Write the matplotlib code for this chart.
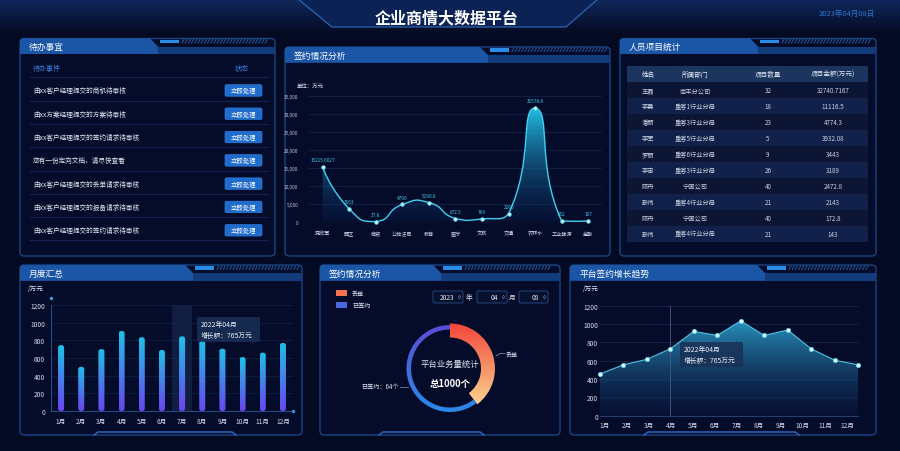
import matplotlib
matplotlib.use('Agg')
import matplotlib.pyplot as plt
import numpy as np
from matplotlib.patches import Rectangle, FancyBboxPatch, Polygon, PathPatch
from matplotlib.path import Path
from matplotlib.colors import to_rgba

plt.rcParams['font.family'] = ['Noto Sans CJK SC', 'DejaVu Sans']

W, H = 900, 452

# ---- 数据 ----
sign_cats = ['党政军', '园区', '商贸', '公检法司', '教育', '医疗', '文旅', '交通', '农林水', '工业能源', '金融']
sign_vals = [15215.6027, 3563, 37.8, 4790, 5298.8, 872.5, 764, 2260, 31578.8, 162, 197]
sign_yticks = [0, 5000, 10000, 15000, 20000, 25000, 30000, 35000]

months = ['1月', '2月', '3月', '4月', '5月', '6月', '7月', '8月', '9月', '10月', '11月', '12月']
month_vals = [745, 500, 700, 905, 835, 690, 845, 795, 705, 610, 660, 770]
trend_vals = [455, 555, 615, 730, 920, 875, 1035, 875, 935, 730, 605, 555]
month_yticks = [0, 200, 400, 600, 800, 1000, 1200]

todo_items = ['由xx客户经理提交的商机待审核',
              '由xx方案经理提交的方案待审核',
              '由xx客户经理提交的签约请求待审核',
              '您有一份定向文档，请尽快查看',
              '由xx客户经理提交的丢单请求待审核',
              '由xx客户经理提交的报备请求待审核',
              '由xx客户经理提交的签约请求待审核']

staff_cols = ['姓名', '所属部门', '项目数量', '项目金额(万元)']
staff_names = ['王磊', '李勇', '潘丽', '李军', '罗丽', '李宙', '陈丹', '靳伟', '陈丹', '靳伟']
staff_depts = ['南丰分公司', '重客1行业分局', '重客3行业分局', '重客5行业分局', '重客6行业分局',
               '重客3行业分局', '宁国公司', '重客4行业分局', '宁国公司', '重客4行业分局']
staff_counts = [32, 18, 23, 5, 9, 26, 40, 21, 40, 21]
staff_amounts = [32740.7167, 11116.5, 4774.3, 3932.08, 3443, 3189, 2472.8, 2143, 172.8, 143]

pie_names = ['丢单', '已签约']
pie_vals = [42, 64]
total_count = 1000

tip_title = '2022年04月'
tip_value = 765

fig = plt.figure(figsize=(9, 4.52), dpi=100)
fig.patch.set_facecolor('#040a22')


def px_axes(x0, y0, x1, y1):
    ax = fig.add_axes([x0 / W, 1 - y1 / H, (x1 - x0) / W, (y1 - y0) / H])
    ax.set_facecolor('none')
    return ax


def grad(ax, x0, x1, y_top, y_bot, c_top, c_bot, clip=None, tr=None, z=1):
    t = np.linspace(0, 1, 128)[:, None, None]
    img = np.array(to_rgba(c_top)) * (1 - t) + np.array(to_rgba(c_bot)) * t
    im = ax.imshow(img, extent=(x0, x1, y_bot, y_top), origin='upper',
                   aspect='auto', interpolation='bilinear', zorder=z)
    if clip is not None:
        if tr is None:
            im.set_clip_path(clip)
        else:
            im.set_clip_path(clip, tr)
    return im


def smooth_path(xv, yv, sx, sy, smooth=0.5):
    # echarts 风格的平滑曲线控制点
    P = np.column_stack([np.asarray(xv, float) * sx, np.asarray(yv, float) * sy])
    n = len(P)
    lo, hi = P.min(axis=0), P.max(axis=0)
    cps = []
    for i in range(n):
        prev = P[i - 1] if i > 0 else P[i]
        nxt = P[i + 1] if i < n - 1 else P[i]
        v = nxt - prev
        d0 = np.hypot(*(P[i] - prev))
        d1 = np.hypot(*(nxt - P[i]))
        r = d1 / (d0 + d1) if d0 + d1 > 0 else 0.5
        c_in = np.clip(P[i] - v * smooth * (1 - r), lo, hi)
        c_out = np.clip(P[i] + v * smooth * r, lo, hi)
        if i == 0:
            c_out = P[i]
        if i == n - 1:
            c_in = P[i]
        cps.append((c_in, c_out))
    verts = [P[0]]
    codes = [Path.MOVETO]
    for i in range(n - 1):
        verts += [cps[i][1], cps[i + 1][0], P[i + 1]]
        codes += [Path.CURVE4] * 3
    return np.array(verts) / [sx, sy], codes


bg = fig.add_axes([0, 0, 1, 1])
bg.axis('off')

# ---- 顶部标题 ----
grad(bg, 0, W, 0, 34, '#10295c', '#040a22', z=0)
bg.add_patch(Polygon([(298, 0), (598, 0), (566, 28), (332, 28)], closed=True,
                     fc='#0a2254', ec='#2f6cbd', lw=0.8, zorder=1))
bg.text(447, 18, '企业商情大数据平台', color='white', fontsize=11.5, weight='bold',
        ha='center', va='center', zorder=3)
bg.text(847, 14, '2023年04月08日', color='#2f78d0', fontsize=5.4, ha='center', va='center')


def panel(x0, y0, x1, y1, title, tab_end, stripe_end, notch=None):
    bg.add_patch(FancyBboxPatch((x0, y0), x1 - x0, y1 - y0,
                                boxstyle='round,pad=0,rounding_size=4',
                                fc='#050c2a', ec='#1a4a8e', lw=0.9, zorder=1))
    bg.add_patch(Rectangle((x0, y0 + 8), x1 - x0, 7.5, fc='#123c7c', ec='none', zorder=2))
    bg.add_patch(Polygon([(x0, y0 + 2), (x0 + 2, y0), (tab_end, y0), (tab_end + 8, y0 + 8),
                          (tab_end + 8, y0 + 15.5), (x0, y0 + 15.5)], closed=True,
                         fc='#1b56a6', ec='none', zorder=2))
    bg.add_patch(Rectangle((tab_end + 10, y0 + 1), 19, 3.5, fc='#2b8ce6', ec='none', zorder=3))
    for sx in np.arange(tab_end + 32, stripe_end, 3.2):
        bg.plot([sx, sx + 2], [y0 + 4.5, y0 + 1], color='#2b5b9c', lw=0.7, zorder=3)
    bg.text(x0 + 9, y0 + 8, title, color='white', fontsize=6.3, va='center', zorder=4)
    if notch is not None:
        a, b = notch
        bg.plot([a - 4, a, b, b + 4], [y1, y1 - 3, y1 - 3, y1], color='#2a66b8', lw=1.1, zorder=3)


panel(20, 39.5, 275, 257, '待办事宜', 150, 268)
panel(285, 48, 610, 257, '签约情况分析', 480, 605)
panel(620, 39.5, 876, 257, '人员项目统计', 750, 870)
panel(20, 266, 302, 436, '月度汇总', 185, 300, notch=(98, 232))
panel(320, 266, 560, 436, '签约情况分析', 433, 550, notch=(383, 480))
panel(570, 266, 876, 436, '平台签约增长趋势', 757, 868, notch=(648, 795))

# ---- 待办事宜 ----
bg.text(33, 69.5, '待办事件', color='#3d7fe0', fontsize=5, va='center')
bg.text(242, 69.5, '状态', color='#3d7fe0', fontsize=5, va='center', ha='center')
row_h = 23.3
for i, item in enumerate(todo_items):
    yl = 78.3 + row_h * i
    bg.plot([30, 268], [yl, yl], color='#17295a', lw=0.6, zorder=2)
    yc = yl + row_h / 2 + 1.5
    bg.text(33, yc, item, color='#dfe6f2', fontsize=4.8, va='center', zorder=3)
    bg.add_patch(FancyBboxPatch((225, yc - 5.8), 37, 11.6, boxstyle='round,pad=0,rounding_size=1.5',
                                fc='#1f6ccc', ec='#2f86e6', lw=0.4, zorder=3))
    bg.text(243.5, yc, '立即处理', color='white', fontsize=4.6, ha='center', va='center', zorder=4)
bg.plot([30, 268], [78.3 + row_h * 7, 78.3 + row_h * 7], color='#17295a', lw=0.6, zorder=2)

# ---- 人员项目统计 ----
col_x = [648, 695, 768, 833]
bg.add_patch(Rectangle((627, 66.7), 241, 16.6, fc='#1b355f', ec='none', zorder=2))
for cx, c in zip(col_x, staff_cols):
    bg.text(cx, 75, c, color='#dfe6f2', fontsize=4.8, ha='center', va='center', zorder=3)
rh = 15.93
for i in range(len(staff_names)):
    y0 = 83.3 + i * rh
    bg.add_patch(Rectangle((627, y0), 241, rh, fc='#0c1634' if i % 2 == 0 else '#12214a',
                           ec='none', zorder=2))
    vals = [staff_names[i], staff_depts[i], str(staff_counts[i]), str(staff_amounts[i])]
    for cx, v in zip(col_x, vals):
        bg.text(cx, y0 + rh / 2, v, color='#c6cfe0', fontsize=4.5, ha='center', va='center', zorder=3)

# ---- 签约情况分析 折线 ----
bg.text(297, 86, '单位：万元', color='#dfe6f2', fontsize=3.9, va='center')
ax2 = px_axes(309.4, 96.7, 601.6, 222.7)
xs = np.arange(len(sign_cats))
verts, codes = smooth_path(xs, sign_vals, 26.6, 126 / 35000, smooth=0.6)
fill_path = Path(np.vstack([verts, [[xs[-1], 0], [xs[0], 0], [xs[0], 0]]]),
                 codes + [Path.LINETO, Path.LINETO, Path.CLOSEPOLY])
fill_patch = PathPatch(fill_path, fc='none', ec='none')
ax2.add_patch(fill_patch)
grad(ax2, -0.5, 10.5, max(sign_vals), 0, (0.15, 0.78, 0.93, 0.95), (0.04, 0.18, 0.42, 0.15),
     clip=fill_patch, z=2)
ax2.add_patch(PathPatch(Path(verts, codes), fc='none', ec='#3fd0f0', lw=1.0, zorder=4, clip_on=False))
ax2.scatter(xs, sign_vals, s=7, color='#d9f7ff', edgecolor='#3fd0f0', lw=0.5, zorder=5, clip_on=False)
for x, v in zip(xs, sign_vals):
    ax2.annotate(str(v), (x, v), xytext=(0, 3.5), textcoords='offset points', ha='center',
                 va='bottom', fontsize=3.4, color='#43c6e6')
ax2.set_xlim(-0.5, 10.5)
ax2.set_ylim(0, 35000)
ax2.set_xticks(xs)
ax2.set_xticklabels(sign_cats)
ax2.set_yticks(sign_yticks)
ax2.set_yticklabels([f'{v:,}' for v in sign_yticks])
ax2.tick_params(axis='x', length=0, pad=6.5, labelsize=3.7, labelcolor='#d0d8e8')
ax2.tick_params(axis='y', length=0, pad=8, labelsize=3.4, labelcolor='#b8c2d6')
ax2.grid(axis='y', color='#16264f', lw=0.5)
ax2.set_axisbelow(True)
for s in ax2.spines.values():
    s.set_visible(False)

# ---- 月度汇总 柱状 ----
bg.text(28, 289, '/万元', color='#dfe6f2', fontsize=4.8, va='center')
ax4 = px_axes(51, 306, 293, 412)
mx = np.arange(len(months))
ax4.axvspan(5.5, 6.5, color='#16254a', alpha=0.75, zorder=1, lw=0)
bars = ax4.bar(mx, month_vals, width=0.3, color='none', zorder=3)
y_per_x = (20.17 / (106 / 1200))
for b in bars:
    rb = FancyBboxPatch((b.get_x(), 0), b.get_width(), b.get_height(),
                        boxstyle='round,pad=0,rounding_size=0.12', mutation_aspect=y_per_x,
                        fc='none', ec='none')
    ax4.add_patch(rb)
    grad(ax4, b.get_x(), b.get_x() + b.get_width(), b.get_height(), 0,
         '#1fc0e8', '#6a45ee', clip=rb, z=3)
ax4.set_xlim(-0.5, 11.5)
ax4.set_ylim(0, 1200)
ax4.set_xticks(mx)
ax4.set_xticklabels(months)
ax4.set_yticks(month_yticks)
ax4.tick_params(axis='x', length=0, pad=4.6, labelsize=4.8, labelcolor='#d0d8e8')
ax4.tick_params(axis='y', length=0, pad=4.3, labelsize=4.8, labelcolor='#d0d8e8')
ax4.grid(axis='y', color='#13224a', lw=0.5)
ax4.set_axisbelow(True)
for k, s in ax4.spines.items():
    s.set_visible(k in ('left', 'bottom'))
    s.set_color('#2c5a96')
    s.set_linewidth(0.6)
bg.scatter([51, 293], [299, 412], s=2, color='#3fa0e0', zorder=3)

# ---- 签约情况分析 环形 ----
bg.add_patch(Rectangle((336, 291), 11, 6, fc='#f4724e', ec='none', zorder=3))
bg.add_patch(Rectangle((336, 303), 11, 6, fc='#4a66e2', ec='none', zorder=3))
bg.text(352, 294, pie_names[0], color='#dfe6f2', fontsize=4.4, va='center', zorder=3)
bg.text(352, 306.5, pie_names[1], color='#dfe6f2', fontsize=4.4, va='center', zorder=3)
for (bx0, bx1, txt) in [(433, 463, '2023'), (477, 507, '04'), (519, 548, '08')]:
    bg.add_patch(FancyBboxPatch((bx0, 292), bx1 - bx0, 12, boxstyle='round,pad=0,rounding_size=1.5',
                                fc='#07112e', ec='#2a5a9a', lw=0.5, zorder=3))
    bg.text(bx1 - 9, 298, txt, color='#dfe6f2', fontsize=4.8, ha='right', va='center', zorder=4)
    bg.text(bx1 - 4, 298, '◊', color='#9fb0cc', fontsize=3.6, ha='center', va='center', zorder=4)
bg.text(469, 298, '年', color='#dfe6f2', fontsize=4.8, ha='center', va='center', zorder=3)
bg.text(512.5, 298, '月', color='#dfe6f2', fontsize=4.8, ha='center', va='center', zorder=3)

axd = px_axes(400, 319.5, 500, 419.5)
w_out, _ = axd.pie(pie_vals, radius=45, startangle=90, counterclock=False,
                   colors=['none', 'none'], wedgeprops=dict(width=14, lw=0))
w_in, _ = axd.pie(pie_vals, radius=43.5, startangle=90, counterclock=False,
                  colors=['none', 'none'], wedgeprops=dict(width=4.5, lw=0))
grad(axd, -50, 50, 45, -40, '#f2463a', '#fbd892', clip=w_out[0], z=2)
grad(axd, -50, 50, 45, -45, '#5b4bd4', '#2a8ae8', clip=w_in[1], z=2)
axd.text(0, 5.5, '平台业务量统计', color='#dfe6f2', fontsize=6, ha='center', va='center')
axd.text(0, -14.5, f'总{total_count}个', color='white', fontsize=6.8, weight='bold',
         ha='center', va='center')
axd.set_xlim(-50, 50)
axd.set_ylim(-50, 50)
axd.set_aspect('equal')
axd.axis('off')
bg.plot([496, 500, 505], [357, 354.5, 354.5], color='#8a98b8', lw=0.5, zorder=3)
bg.text(506, 354.5, pie_names[0], color='#dfe6f2', fontsize=4.4, va='center', zorder=3)
bg.plot([400, 408], [387.5, 387.5], color='#8a98b8', lw=0.5, zorder=3)
bg.text(398.5, 387.5, f'{pie_names[1]}：{pie_vals[1]}个', color='#dfe6f2', fontsize=4.4,
        ha='right', va='center', zorder=3)

# ---- 平台签约增长趋势 ----
bg.text(583, 289, '/万元', color='#dfe6f2', fontsize=4.8, va='center')
ax6 = px_axes(600, 306.7, 858, 416.7)
tx = np.arange(len(months))
poly = ax6.fill_between(tx, trend_vals, 0, color='none', lw=0)
grad(ax6, 0, 11, max(trend_vals), 0, (0.17, 0.6, 0.77, 0.95), (0.04, 0.1, 0.28, 0.35),
     clip=poly.get_paths()[0], tr=ax6.transData, z=2)
ax6.plot(tx, trend_vals, color='#4ec3e3', lw=0.8, zorder=3)
ax6.scatter(tx, trend_vals, s=9, color='#eafcff', edgecolor='#59d4f4', lw=0.6, zorder=5, clip_on=False)
ax6.axvline(3, color='#46598a', lw=0.6, zorder=4)
ax6.set_xlim(0, 11)
ax6.set_ylim(0, 1200)
ax6.set_xticks(np.linspace(0.21, 10.53, 12))
ax6.set_xticklabels(months)
ax6.set_yticks(month_yticks)
ax6.tick_params(axis='x', length=0, pad=4, labelsize=4.8, labelcolor='#d0d8e8')
ax6.tick_params(axis='y', length=0, pad=1.5, labelsize=4.8, labelcolor='#d0d8e8')
ax6.grid(axis='y', color='#1d2d55', lw=0.5)
ax6.set_axisbelow(True)
for k, s in ax6.spines.items():
    s.set_visible(k == 'bottom')
    s.set_color('#2a4a80')
    s.set_linewidth(0.6)

# ---- 提示框 ----
top = fig.add_axes([0, 0, 1, 1])
top.set_facecolor('none')
top.axis('off')
for (tx0, ty0) in [(197, 318), (680, 343)]:
    top.add_patch(FancyBboxPatch((tx0, ty0), 63, 25, boxstyle='round,pad=0,rounding_size=2',
                                 fc='#1a3056', ec='none', alpha=0.85))
    top.text(tx0 + 4, ty0 + 7, tip_title, color='#e8eef8', fontsize=4.9, va='center')
    top.text(tx0 + 4, ty0 + 18, f'增长额：{tip_value}万元', color='#e8eef8', fontsize=4.9, va='center')
top.set_xlim(0, W)
top.set_ylim(H, 0)

bg.set_xlim(0, W)
bg.set_ylim(H, 0)

fig.savefig('out.png', dpi=100, facecolor=fig.get_facecolor())
